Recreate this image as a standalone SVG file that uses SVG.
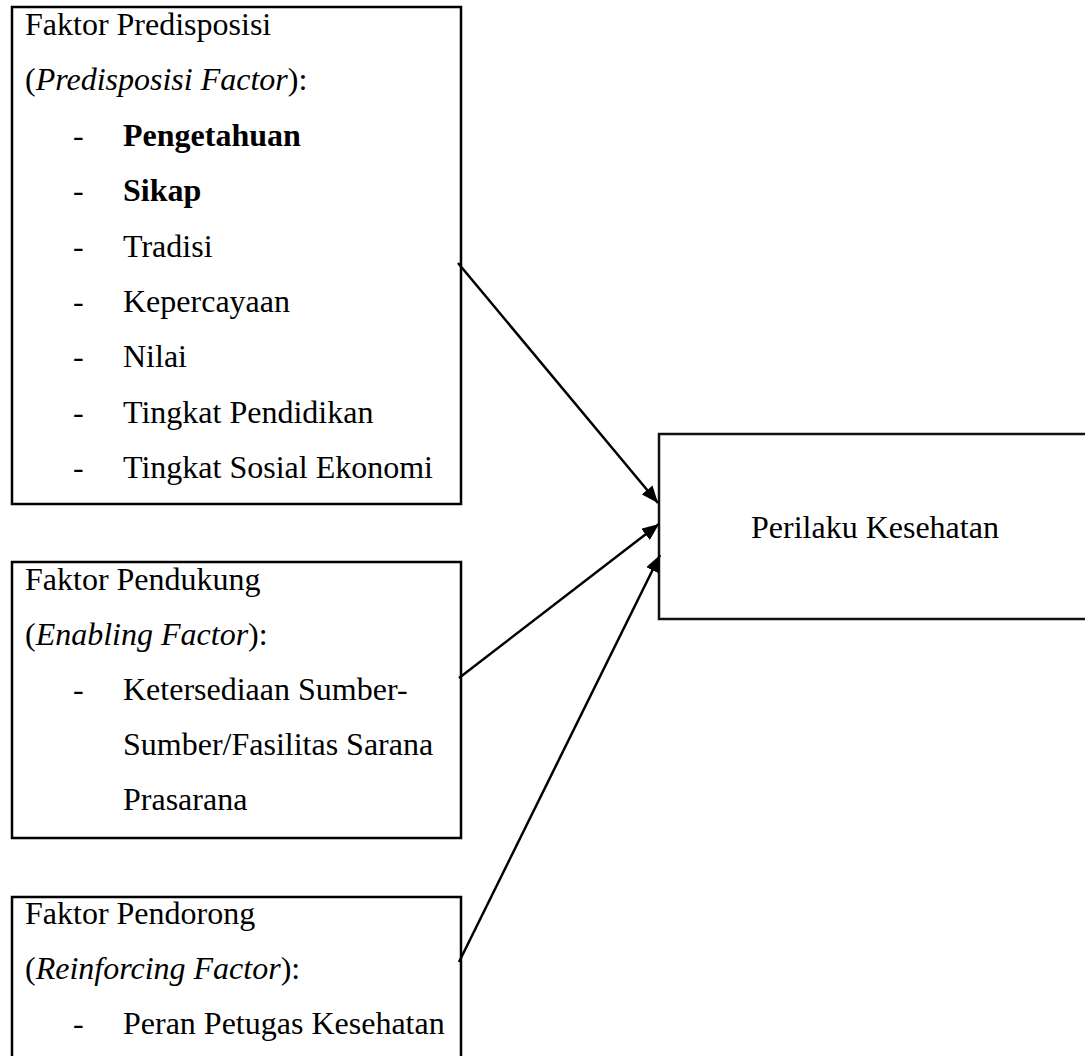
<svg xmlns="http://www.w3.org/2000/svg" width="1085" height="1056" viewBox="0 0 1085 1056">
<style>
.box{fill:#fff;stroke:#000;stroke-width:2.5}
.rbox{fill:#fff;stroke:#111;stroke-width:2.5}
text{font-family:"Liberation Serif","Times New Roman",serif;font-size:32px;fill:#000}
.it{font-style:italic}
.b{font-weight:bold}
.conn{stroke:#000;stroke-width:2.5;fill:none}
</style>
<defs>
<marker id="ah" markerUnits="userSpaceOnUse" markerWidth="18" markerHeight="14" refX="17" refY="7" orient="auto">
<path d="M0,0 L17,7 L0,14 z" fill="#000"/>
</marker>
</defs>
<rect width="1085" height="1056" fill="#fff"/>
<g id="node-predisposisi">
<rect class="box" x="12" y="7" width="449" height="497"/>
<text x="25" y="35">Faktor Predisposisi</text>
<text x="25" y="90">(<tspan class="it">Predisposisi Factor</tspan>):</text>
<text x="73" y="146">-</text><text class="b" x="123" y="146">Pengetahuan</text>
<text x="73" y="201">-</text><text class="b" x="123" y="201">Sikap</text>
<text x="73" y="257">-</text><text x="123" y="257">Tradisi</text>
<text x="73" y="312">-</text><text x="123" y="312">Kepercayaan</text>
<text x="73" y="367">-</text><text x="123" y="367">Nilai</text>
<text x="73" y="423">-</text><text x="123" y="423">Tingkat Pendidikan</text>
<text x="73" y="478">-</text><text x="123" y="478">Tingkat Sosial Ekonomi</text>
</g>
<g id="node-pendukung">
<rect class="box" x="12" y="562" width="449" height="276"/>
<text x="25" y="590">Faktor Pendukung</text>
<text x="25" y="645">(<tspan class="it">Enabling Factor</tspan>):</text>
<text x="73" y="700">-</text><text x="123" y="700">Ketersediaan Sumber-</text>
<text x="123" y="755">Sumber/Fasilitas Sarana</text>
<text x="123" y="810">Prasarana</text>
</g>
<g id="node-pendorong">
<rect class="box" x="12" y="897" width="449" height="200"/>
<text x="25" y="924">Faktor Pendorong</text>
<text x="25" y="979">(<tspan class="it">Reinforcing Factor</tspan>):</text>
<text x="73" y="1034">-</text><text x="123" y="1034">Peran Petugas Kesehatan</text>
</g>
<g id="node-perilaku">
<rect class="rbox" x="659" y="434" width="500" height="185"/>
<text x="751" y="538">Perilaku Kesehatan</text>
</g>
<g id="connectors">
<line class="conn" x1="458" y1="263" x2="658" y2="503" marker-end="url(#ah)"/>
<line class="conn" x1="459" y1="678" x2="659" y2="524" marker-end="url(#ah)"/>
<line class="conn" x1="459" y1="962" x2="660" y2="555" marker-end="url(#ah)"/>
</g>
</svg>
